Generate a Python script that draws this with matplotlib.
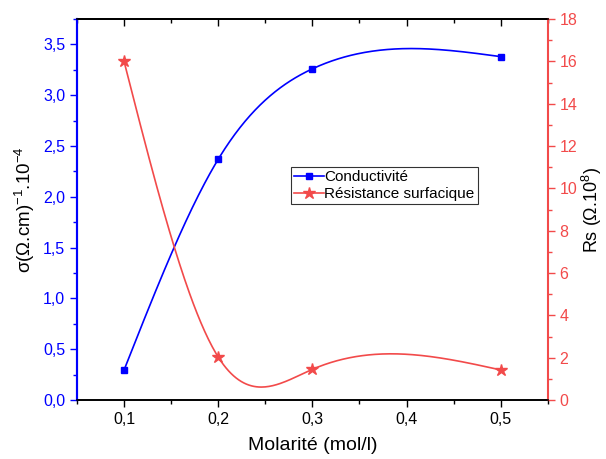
import numpy as np
import matplotlib
matplotlib.use("Agg")
import matplotlib.pyplot as plt
from matplotlib.ticker import MultipleLocator, FuncFormatter

plt.rcParams['font.family'] = ['Liberation Sans', 'DejaVu Sans']

molarite = [0.1, 0.2, 0.3, 0.5]
conductivite = [0.295, 2.37, 3.26, 3.38]
resistance = [16.0, 2.03, 1.45, 1.42]

BLUE = '#0000ff'
RED = '#f24a4a'


def natural_spline(x, y, n=300):
    x = np.asarray(x, float)
    y = np.asarray(y, float)
    k = len(x)
    h = np.diff(x)
    A = np.zeros((k, k))
    b = np.zeros(k)
    A[0, 0] = A[-1, -1] = 1.0
    for i in range(1, k - 1):
        A[i, i - 1] = h[i - 1]
        A[i, i] = 2 * (h[i - 1] + h[i])
        A[i, i + 1] = h[i]
        b[i] = 3 * ((y[i + 1] - y[i]) / h[i] - (y[i] - y[i - 1]) / h[i - 1])
    c = np.linalg.solve(A, b)
    xs = np.linspace(x[0], x[-1], n)
    ys = np.empty_like(xs)
    for j, xv in enumerate(xs):
        i = min(np.searchsorted(x, xv, side='right') - 1, k - 2)
        d = xv - x[i]
        bi = (y[i + 1] - y[i]) / h[i] - h[i] * (2 * c[i] + c[i + 1]) / 3
        di = (c[i + 1] - c[i]) / (3 * h[i])
        ys[j] = y[i] + bi * d + c[i] * d ** 2 + di * d ** 3
    return xs, ys


comma = FuncFormatter(lambda v, p: f"{v:.1f}".replace('.', ','))
comma_int = FuncFormatter(lambda v, p: f"{v:.0f}")

fig = plt.figure(figsize=(6.06, 4.59), dpi=100)
ax = fig.add_axes([0.127, 0.1285, 0.777, 0.830])
ax2 = ax.twinx()

xs, ys = natural_spline(molarite, conductivite)
ax.plot(xs, ys, color=BLUE, lw=1.2)
ax.plot(molarite, conductivite, ls='none', marker='s', ms=5, color=BLUE)
ax.plot([], [], color=BLUE, lw=1.2, marker='s', ms=5, label='Conductivité')

xs2, ys2 = natural_spline(molarite, resistance)
ax2.plot(xs2, ys2, color=RED, lw=1.2)
ax2.plot(molarite, resistance, ls='none', marker='*', ms=9, color=RED)
ax2.plot([], [], color=RED, lw=1.2, marker='*', ms=9, label='Résistance surfacique')

ax.set_xlim(0.05, 0.55)
ax.set_ylim(0, 3.75)
ax2.set_ylim(0, 18)

ax.xaxis.set_major_locator(MultipleLocator(0.1))
ax.xaxis.set_minor_locator(MultipleLocator(0.05))
ax.xaxis.set_major_formatter(comma)
ax.yaxis.set_major_locator(MultipleLocator(0.5))
ax.yaxis.set_minor_locator(MultipleLocator(0.25))
ax.yaxis.set_major_formatter(comma)
ax2.yaxis.set_major_locator(MultipleLocator(2))
ax2.yaxis.set_minor_locator(MultipleLocator(1))
ax2.yaxis.set_major_formatter(comma_int)

ax.tick_params(axis='x', which='both', direction='out', labelsize=11.5, colors='black', width=1)
ax.tick_params(axis='x', which='major', length=5)
ax.tick_params(axis='x', which='minor', length=3)
ax.tick_params(axis='y', which='both', direction='out', colors=BLUE, labelsize=11.5, width=1)
ax.tick_params(axis='y', which='major', length=5)
ax.tick_params(axis='y', which='minor', length=3)
ax2.tick_params(axis='y', which='both', direction='out', colors=RED, labelsize=11.5, width=1)
ax2.tick_params(axis='y', which='major', length=5)
ax2.tick_params(axis='y', which='minor', length=3)

for s in ('top', 'bottom'):
    ax.spines[s].set_linewidth(1.2)
    ax2.spines[s].set_linewidth(1.2)
ax2.spines['left'].set_color(BLUE)
ax2.spines['left'].set_linewidth(1.5)
ax2.spines['right'].set_color(RED)
ax2.spines['right'].set_linewidth(1.5)
ax.spines['left'].set_color(BLUE)
ax.spines['left'].set_linewidth(1.5)
ax.spines['right'].set_visible(False)

# top axis ticks pointing inward
top = ax.secondary_xaxis('top')
top.xaxis.set_major_locator(MultipleLocator(0.1))
top.xaxis.set_minor_locator(MultipleLocator(0.05))
top.tick_params(axis='x', which='both', direction='in', labeltop=False, width=1)
top.tick_params(axis='x', which='major', length=5)
top.tick_params(axis='x', which='minor', length=3)
top.spines['top'].set_linewidth(1.2)

ax.set_xlabel('Molarité (mol/l)', fontsize=14, labelpad=7)
ax.set_ylabel('σ(Ω.cm)$^{\\mathregular{-1}}$.10$^{\\mathregular{-4}}$', fontsize=13.5, labelpad=4)
ax2.set_ylabel('Rs (Ω.10$^{\\mathregular{8}}$)', fontsize=13, labelpad=2)

h1, l1 = ax.get_legend_handles_labels()
h2, l2 = ax2.get_legend_handles_labels()
leg = ax2.legend(h1 + h2, l1 + l2, loc='upper left', bbox_to_anchor=(0.454, 0.612),
                 fontsize=11, frameon=True, fancybox=False, edgecolor='black',
                 borderpad=0.2, handlelength=2.0, handletextpad=0.0,
                 labelspacing=0.2, borderaxespad=0)
leg.get_frame().set_linewidth(0.8)

fig.savefig('out.png', dpi=100)
